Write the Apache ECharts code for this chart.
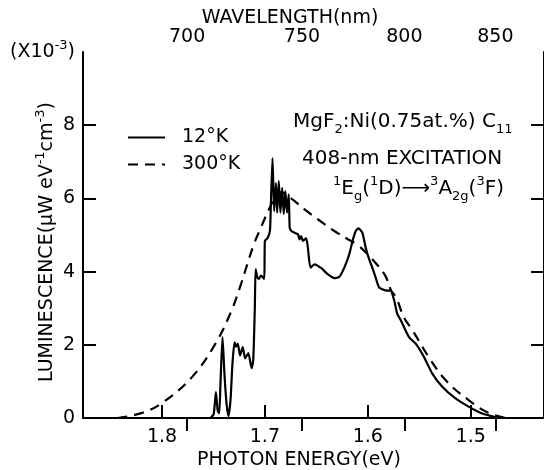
<!DOCTYPE html>
<html>
<head>
<meta charset="utf-8">
<script src="https://cdn.jsdelivr.net/npm/echarts@6/dist/echarts.min.js"></script>
<style>
  html, body { margin: 0; padding: 0; background: #fff; }
  #chart { width: 544px; height: 470px; }
</style>
</head>
<body>
<div id="chart"></div>
<script>
// Photon energy (eV) and luminescence (x10^-3 uW eV^-1 cm^-3), 12 K spectrum
const energy12K = [1.7530, 1.7498, 1.7476, 1.7459, 1.7444, 1.7431, 1.7412, 1.7393, 1.7373, 1.7354,
  1.7334, 1.7315, 1.7295, 1.7281, 1.7264, 1.7241, 1.7215, 1.7192, 1.7161, 1.7129,
  1.7113, 1.7098, 1.7090, 1.7074, 1.7058, 1.7038, 1.7007, 1.7000, 1.6975, 1.6951,
  1.6942, 1.6926, 1.6910, 1.6893, 1.6881, 1.6865, 1.6849, 1.6832, 1.6817, 1.6801,
  1.6785, 1.6768, 1.6759, 1.6743, 1.6711, 1.6679, 1.6663, 1.6647, 1.6631, 1.6599,
  1.6582, 1.6557, 1.6518, 1.6454, 1.6390, 1.6324, 1.6276, 1.6228, 1.6180, 1.6148,
  1.6117, 1.6091, 1.6052, 1.6020, 1.5987, 1.5956, 1.5924, 1.5891, 1.5859, 1.5811,
  1.5779, 1.5743, 1.5714, 1.5679, 1.5599, 1.5534, 1.5454, 1.5374, 1.5278, 1.5150,
  1.5020, 1.4894, 1.4731];
const lum12K = [0.00, 0.10, 0.71, 0.20, 0.13, 1.00, 2.21, 1.20, 0.40, 0.05,
  0.50, 1.50, 2.07, 1.95, 2.03, 1.71, 1.94, 1.63, 1.77, 1.36,
  1.60, 3.00, 4.07, 3.85, 3.80, 3.89, 3.80, 4.84, 4.91, 5.11,
  5.83, 7.10, 5.65, 6.42, 5.61, 6.47, 5.61, 6.29, 5.57, 6.20,
  5.61, 6.11, 5.20, 5.11, 5.06, 5.02, 4.88, 4.97, 4.84, 4.91,
  4.65, 4.11, 4.20, 4.10, 3.93, 3.82, 3.86, 4.11, 4.47, 4.84,
  5.11, 5.18, 5.06, 4.65, 4.34, 4.11, 3.84, 3.57, 3.52, 3.48,
  3.48, 3.21, 2.85, 2.67, 2.21, 2.03, 1.67, 1.22, 0.86, 0.54,
  0.31, 0.13, 0.00];

// 300 K spectrum
const energy300K = [1.8434, 1.8193, 1.8000, 1.7711, 1.7479, 1.7325, 1.7238, 1.7113, 1.7033, 1.6961,
  1.6901, 1.6843, 1.6775, 1.6708, 1.6614, 1.6486, 1.6325, 1.6197, 1.6100, 1.6004,
  1.5907, 1.5830, 1.5772, 1.5724, 1.5647, 1.5570, 1.5406, 1.5242, 1.5020, 1.4827,
  1.4663];
const lum300K = [0.00, 0.14, 0.41, 1.11, 2.04, 2.93, 3.61, 4.70, 5.24, 5.70,
  6.01, 6.17, 6.06, 5.92, 5.70, 5.43, 5.11, 4.89, 4.73, 4.48,
  4.18, 3.89, 3.48, 3.29, 2.74, 2.42, 1.66, 1.03, 0.49, 0.14,
  0.00];

const seriesNames = ['12°K', '300°K'];

// Axis ticks
const energyTicks = [1.8, 1.7, 1.6, 1.5];
const lumTicks = [0, 2, 4, 6, 8];
const wavelengthTickLabels = ['700', '750', '800', '850'];
const wavelengthTickEnergy = [1.7756, 1.6640, 1.5644, 1.4760];

const FONT = 'DejaVu Sans';
const FS = 19;      // axis text
const FS_NOTE = 20; // annotation text
const FS_SMALL = 13;
const E_MIN = 1.4287, E_MAX = 1.8768;

const pairs = (xs, ys) => xs.map((x, i) => [x, ys[i]]);

const chart = echarts.init(document.getElementById('chart'), null, { renderer: 'canvas' });

const axisLine = { show: true, lineStyle: { color: '#000', width: 2 } };
const tickStyle = { color: '#000', width: 2 };

const richSupSub = {
  n: { fontSize: FS_NOTE, fontFamily: FONT, fill: '#000', color: '#000', lineHeight: 28 },
  s: { fontSize: FS_SMALL, fontFamily: FONT, fill: '#000', color: '#000', lineHeight: 15, verticalAlign: 'top' },
  b: { fontSize: FS_SMALL, fontFamily: FONT, fill: '#000', color: '#000', lineHeight: 15, verticalAlign: 'bottom' }
};

chart.setOption({
  backgroundColor: '#fff',
  animation: false,
  textStyle: { fontFamily: FONT, color: '#000' },
  grid: { left: 83, right: -4, top: 52, bottom: 52, containLabel: false },
  legend: {
    data: seriesNames,
    orient: 'vertical',
    left: 127,
    top: 128,
    padding: 0,
    itemWidth: 37,
    itemHeight: 14,
    itemGap: 8,
    itemStyle: { opacity: 0, color: 'rgba(0,0,0,0)', borderWidth: 0 },
    textStyle: { fontFamily: FONT, fontSize: FS, color: '#000', padding: [0, 0, 0, 12] }
  },
  xAxis: [
    {
      type: 'value', position: 'bottom', inverse: true, min: E_MIN, max: E_MAX,
      axisLine: axisLine,
      splitLine: { show: false },
      axisTick: { show: true, inside: true, length: 13, lineStyle: tickStyle, customValues: energyTicks },
      axisLabel: { customValues: energyTicks, margin: 10, fontSize: FS, color: '#000', fontFamily: FONT,
        formatter: v => v.toFixed(1) }
    },
    {
      type: 'value', position: 'top', inverse: true, min: E_MIN, max: E_MAX,
      axisLine: axisLine,
      splitLine: { show: false },
      axisTick: { show: true, inside: true, length: 13, lineStyle: tickStyle, customValues: wavelengthTickEnergy },
      axisLabel: { customValues: wavelengthTickEnergy, margin: 5, fontSize: FS, color: '#000', fontFamily: FONT,
        formatter: v => {
          let best = 0;
          wavelengthTickEnergy.forEach((e, i) => { if (Math.abs(e - v) < Math.abs(wavelengthTickEnergy[best] - v)) best = i; });
          return wavelengthTickLabels[best];
        } }
    }
  ],
  yAxis: [
    {
      type: 'value', position: 'left', min: 0, max: 10, interval: 2,
      axisLine: axisLine,
      splitLine: { show: false },
      axisTick: { show: true, inside: true, length: 13, lineStyle: tickStyle, customValues: lumTicks },
      axisLabel: { margin: 8, fontSize: FS, color: '#000', fontFamily: FONT,
        formatter: v => (v === 10 ? '{n|(X10}{s|-3}{n|)}' : String(v)),
        rich: {
          n: { fontSize: FS, fontFamily: FONT, color: '#000', lineHeight: 26 },
          s: { fontSize: FS_SMALL, fontFamily: FONT, color: '#000', lineHeight: 15, verticalAlign: 'top' }
        } }
    },
    {
      type: 'value', position: 'right', min: 0, max: 10, interval: 2,
      axisLine: axisLine,
      splitLine: { show: false },
      axisTick: { show: true, inside: true, length: 13, lineStyle: tickStyle, customValues: lumTicks },
      axisLabel: { show: false }
    }
  ],
  series: [
    {
      name: seriesNames[0], type: 'line', xAxisIndex: 0, yAxisIndex: 0,
      data: pairs(energy12K, lum12K),
      symbol: 'none', smooth: 0.2,
      lineStyle: { color: '#000', width: 2.2, type: 'solid' },
      itemStyle: { color: '#000' }
    },
    {
      name: seriesNames[1], type: 'line', xAxisIndex: 0, yAxisIndex: 0,
      data: pairs(energy300K, lum300K),
      symbol: 'none', smooth: 0.4,
      lineStyle: { color: '#000', width: 2.2, type: [10, 7] },
      itemStyle: { color: '#000' }
    }
  ],
  graphic: [
    { type: 'text', x: 290, y: 18, style: { text: 'WAVELENGTH(nm)', fontFamily: FONT, fontSize: FS, fill: '#000', align: 'center', verticalAlign: 'middle' } },
    { type: 'text', x: 299, y: 460, style: { text: 'PHOTON ENERGY(eV)', fontFamily: FONT, fontSize: FS, fill: '#000', align: 'center', verticalAlign: 'middle' } },
    { type: 'text', x: 47, y: 242, rotation: Math.PI / 2,
      style: { text: '{n|LUMINESCENCE(μW eV}{s|-1}{n|cm}{s|-3}{n|)}', align: 'center', verticalAlign: 'middle',
        rich: {
          n: { fontSize: FS, fontFamily: FONT, fill: '#000', lineHeight: 26 },
          s: { fontSize: FS_SMALL, fontFamily: FONT, fill: '#000', lineHeight: 15, verticalAlign: 'top' }
        } } },
    { type: 'text', x: 293, y: 122,
      style: { text: '{n|MgF}{b|2}{n|:Ni(0.75at.%) C}{b|11}', align: 'left', verticalAlign: 'middle', rich: richSupSub } },
    { type: 'text', x: 302, y: 159, style: { text: '408-nm EXCITATION', fontFamily: FONT, fontSize: FS_NOTE, fill: '#000', align: 'left', verticalAlign: 'middle' } },
    { type: 'text', x: 333, y: 189,
      style: { text: '{s|1}{n|E}{b|g}{n|(}{s|1}{n|D)⟶}{s|3}{n|A}{b|2g}{n|(}{s|3}{n|F)}', align: 'left', verticalAlign: 'middle', rich: richSupSub } }
  ]
});
</script>
</body>
</html>
